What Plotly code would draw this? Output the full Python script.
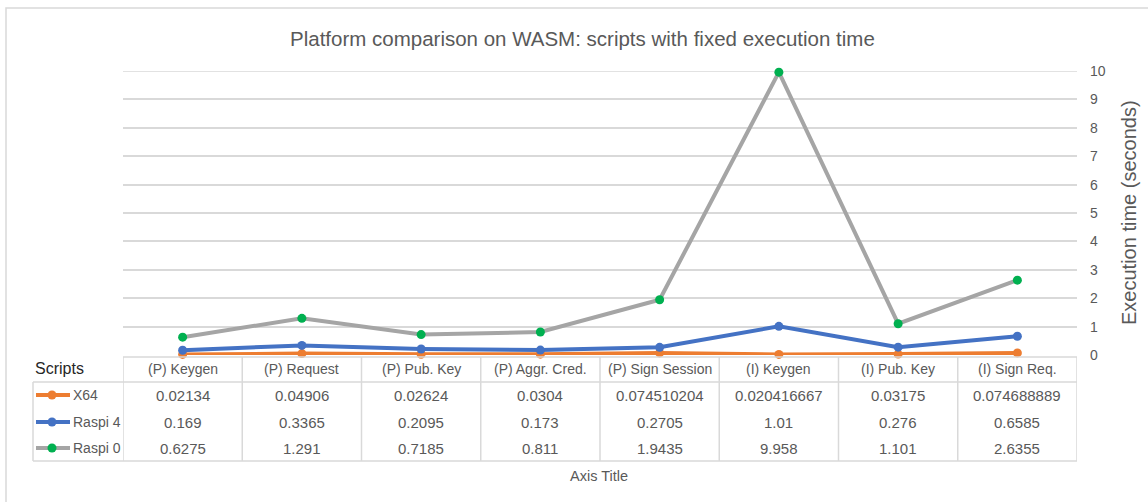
import plotly.graph_objects as go

categories = ["(P) Keygen", "(P) Request", "(P) Pub. Key", "(P) Aggr. Cred.",
              "(P) Sign Session", "(I) Keygen", "(I) Pub. Key", "(I) Sign Req."]
x64 = [0.02134, 0.04906, 0.02624, 0.0304, 0.074510204, 0.020416667, 0.03175, 0.074688889]
raspi4 = [0.169, 0.3365, 0.2095, 0.173, 0.2705, 1.01, 0.276, 0.6585]
raspi0 = [0.6275, 1.291, 0.7185, 0.811, 1.9435, 9.958, 1.101, 2.6355]
series_names = ["X64", "Raspi 4", "Raspi 0"]
y_ticks = list(range(0, 11))

W, H = 1148, 502
L, R, T, B = 123, 1077, 71, 355
PW, PH = R - L, B - T

def px(x):
    return (x - L) / PW

def py(y):
    return (B - y) / PH

FONT = "Liberation Sans"
GREY = "#595959"
GRID = "#d9d9d9"

series = [
    (series_names[0], x64, "#ED7D31", "#ED7D31"),
    (series_names[1], raspi4, "#4472C4", "#4472C4"),
    (series_names[2], raspi0, "#A5A5A5", "#00B050"),
]

idx = list(range(len(categories)))
fig = go.Figure()
for name, vals, lc, mc in series:
    fig.add_trace(go.Scatter(
        x=idx, y=vals, name=name, mode="lines+markers",
        line=dict(color=lc, width=4),
        marker=dict(color=mc, size=9, line=dict(width=0)),
        cliponaxis=False, showlegend=False))

shapes = []
ann = []
# chart border
shapes.append(dict(type="rect", xref="paper", yref="paper",
                   x0=px(6), x1=px(1160), y0=py(8), y1=py(520),
                   line=dict(color=GRID, width=1.5)))
# top gridline (range edge)
shapes.append(dict(type="line", xref="paper", yref="y", x0=0, x1=1,
                   y0=y_ticks[-1], y1=y_ticks[-1], line=dict(color=GRID, width=1.5), layer="below"))
# table lines
tbl_top, hdr_bot, tbl_bot = 357, 382, 461
shapes.append(dict(type="line", xref="paper", yref="paper", x0=px(L), x1=px(R),
                   y0=py(tbl_top), y1=py(tbl_top), line=dict(color=GRID, width=1.5)))
for yy in (hdr_bot, tbl_bot):
    shapes.append(dict(type="line", xref="paper", yref="paper", x0=px(33), x1=px(R),
                       y0=py(yy), y1=py(yy), line=dict(color=GRID, width=1.5)))
shapes.append(dict(type="line", xref="paper", yref="paper", x0=px(33), x1=px(33),
                   y0=py(hdr_bot), y1=py(tbl_bot), line=dict(color=GRID, width=1.5)))
for i in range(len(categories) + 1):
    shapes.append(dict(type="line", xref="x", yref="paper", x0=i - 0.5, x1=i - 0.5,
                       y0=py(tbl_top), y1=py(tbl_bot), line=dict(color=GRID, width=1.5)))

# header
for i, c in enumerate(categories):
    ann.append(dict(x=i, xref="x", y=py(369), yref="paper", text=c, showarrow=False,
                    font=dict(family=FONT, size=14, color=GREY), xanchor="center", yanchor="middle"))
row_y = [395, 422, 448]
for (name, vals, lc, mc), ry in zip(series, row_y):
    for i, v in enumerate(vals):
        ann.append(dict(x=i, xref="x", y=py(ry), yref="paper", text=repr(v), showarrow=False,
                        font=dict(family=FONT, size=15, color=GREY), xanchor="center", yanchor="middle"))
    shapes.append(dict(type="line", xref="paper", yref="paper", x0=px(36), x1=px(70),
                       y0=py(ry), y1=py(ry), line=dict(color=lc, width=4)))
    r = 4.5
    shapes.append(dict(type="circle", xref="paper", yref="paper",
                       x0=px(52 - r), x1=px(52 + r), y0=py(ry + r), y1=py(ry - r),
                       fillcolor=mc, line=dict(width=0)))
    ann.append(dict(x=px(71), xref="paper", y=py(ry), yref="paper", text=name, showarrow=False,
                    font=dict(family=FONT, size=14, color=GREY), xanchor="left", yanchor="middle"))

ann.append(dict(x=px(33), xref="paper", y=py(368), yref="paper", text="Scripts", showarrow=False,
                font=dict(family=FONT, size=16, color="#262626"), xanchor="left", yanchor="middle"))
ann.append(dict(x=px(599), xref="paper", y=py(476), yref="paper", text="Axis Title", showarrow=False,
                font=dict(family=FONT, size=14.5, color=GREY), xanchor="center", yanchor="middle"))
ann.append(dict(x=px(1129), xref="paper", y=py(213), yref="paper", text="Execution time (seconds)",
                showarrow=False, textangle=-90,
                font=dict(family=FONT, size=20, color=GREY), xanchor="center", yanchor="middle"))
ann.append(dict(x=px(582), xref="paper", y=py(38), yref="paper",
                text="Platform comparison on WASM: scripts with fixed execution time", showarrow=False,
                font=dict(family=FONT, size=20.5, color=GREY), xanchor="center", yanchor="middle"))

fig.update_layout(
    width=W, height=H,
    margin=dict(l=L, r=W - R, t=T, b=H - B),
    paper_bgcolor="white", plot_bgcolor="white",
    shapes=shapes, annotations=ann, showlegend=False,
    xaxis=dict(range=[-0.5, len(categories) - 0.5], showticklabels=False, showgrid=False,
               zeroline=False, showline=False, ticks=""),
    yaxis=dict(range=[0, 10], side="right", tickvals=y_ticks, showgrid=True, gridcolor=GRID,
               gridwidth=1.5, zeroline=False, showline=False, ticks="",
               ticklabelstandoff=12,
               tickfont=dict(family=FONT, size=14, color=GREY)),
)

fig.write_html("out.html", config={"displayModeBar": False},
               post_script="document.body.style.margin='0';document.body.style.overflow='hidden';")
